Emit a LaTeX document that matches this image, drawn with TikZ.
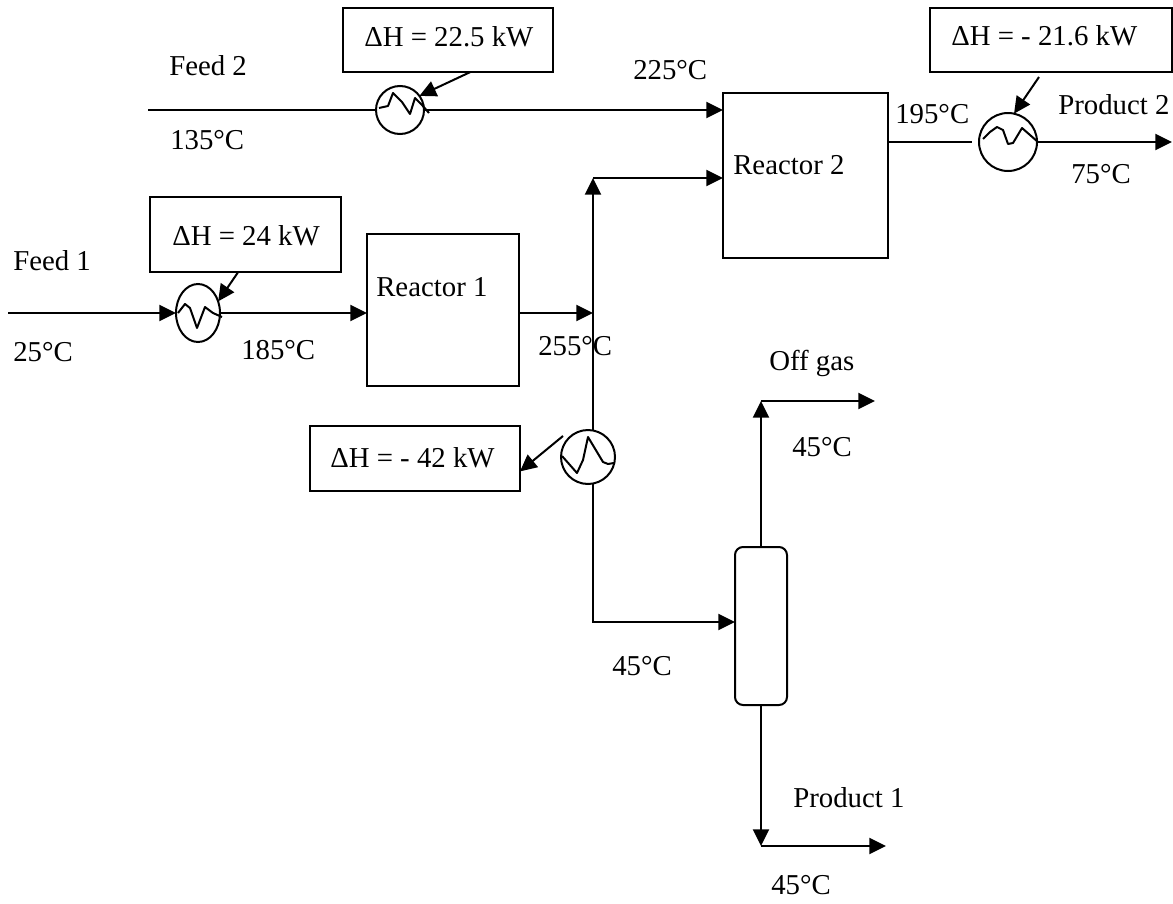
\documentclass[tikz,border=0pt]{standalone}
\usepackage{fontspec}
\setmainfont{Liberation Serif}
\usetikzlibrary{arrows.meta,shapes.geometric}
\tikzset{
	flow/.style={line width=1.5pt,-{Triangle[length=12.5pt,width=12pt]}},
	pipe/.style={line width=1.5pt},
	wave/.style={line width=1.5pt,line join=round},
	unit/.style={draw,line width=1.5pt,outer sep=0pt,inner sep=0pt},
	duty/.style={unit,minimum height=48pt},
	hx/.style={draw,circle,line width=1.5pt,outer sep=0pt,inner sep=0pt},
	lbl/.style={anchor=base west,inner sep=0pt,font=\fontsize{21.6}{25}\selectfont}
}
\begin{document}
\begin{tikzpicture}[x=0.75pt,y=-0.75pt]
	\useasboundingbox (0,0) rectangle (1173,903);
	% units
	\node[unit,minimum width=114pt,minimum height=114pt] (reactorone) at (443,310) {};
	\node[unit,minimum width=123.75pt,minimum height=123.75pt] (reactortwo) at (805.5,175.5) {};
	\node[unit,rounded corners=6pt,minimum width=39pt,minimum height=118.5pt] (column) at (761,626) {};
	\node[duty,minimum width=157.5pt] (dutyone) at (448,40) {};
	\node[duty,minimum width=181.5pt] (dutytwo) at (1051,40) {};
	\node[unit,minimum width=143.25pt,minimum height=56.25pt] (dutythree) at (245.5,234.5) {};
	\node[duty,minimum width=157.5pt,minimum height=48.75pt] (dutyfour) at (415,458.5) {};
	\node[hx,ellipse,minimum width=33pt,minimum height=43.5pt] (hxone) at (198,313) {};
	\node[hx,minimum size=36pt] (hxtwo) at (400,110) {};
	\node[hx,minimum size=43.5pt] (hxthree) at (1008,142) {};
	\node[hx,minimum size=40.5pt] (hxfour) at (588,457) {};
	% free ends
	\coordinate (feedone) at (8,313);
	\coordinate (feedtwo) at (148,110);
	\coordinate (mixone) at (593,313);
	\coordinate (mixtwo) at (593,178);
	\coordinate (bend) at (593,622);
	\coordinate (offbend) at (761,401);
	\coordinate (offgas) at (875,401);
	\coordinate (prodbend) at (761,846);
	\coordinate (prodone) at (886,846);
	\coordinate (prodtwo) at (1172,142);
	\coordinate (hotend) at (972,142);
	\coordinate (dutytwoend) at (1039,77);
	\coordinate (dutyfourend) at (563,436);
	% streams
	\draw[flow] (feedone) -- (hxone.west);
	\draw[flow] (hxone.east) -- (hxone.east -| reactorone.west);
	\draw[flow] (mixone -| reactorone.east) -- (mixone);
	\draw[pipe] (feedtwo) -- (hxtwo.west);
	\draw[flow] (hxtwo.east) -- (hxtwo.east -| reactortwo.west);
	\draw[flow] (mixone |- hxfour.north) -- (mixtwo);
	\draw[flow] (mixtwo) -- (mixtwo -| reactortwo.west);
	\draw[pipe] (hotend -| reactortwo.east) -- (hotend);
	\draw[flow] (hxthree.east) -- (prodtwo);
	\draw[flow] (mixone |- hxfour.south) -- (bend) -- (bend -| column.west);
	\draw[flow] (column.north) -- (offbend);
	\draw[flow] (offbend) -- (offgas);
	\draw[flow] (column.south) -- (prodbend);
	\draw[flow] (prodbend) -- (prodone);
	% duties
	\draw[flow] (dutythree.-101) -- (hxone.30);
	\draw[flow] (dutyone.-55.5) -- (hxtwo.36);
	\draw[flow] (dutytwoend) -- (hxthree.78);
	\draw[flow] (dutyfourend) -- (dutyfour.-7);
	% exchanger curves
	\draw[wave] (178,313) -- (185,304) -- (190,308) -- (197,328) -- (205,307) -- (213,313) -- (222,317);
	\draw[wave] (379,108) -- (388,106) -- (393,93) -- (402,102) -- (410,114) -- (415,98) -- (422,105) -- (429,113);
	\draw[wave] (983,139) -- (990,132) -- (997,127) -- (1003,130) -- (1008,144) -- (1013,143) -- (1022,128) -- (1030,135) -- (1038,142);
	\draw[wave] (562,456) -- (577,473) -- (583,460) -- (588,437) -- (603,462) -- (608,464) -- (614,463);
	% labels
	\node[lbl] (lfeedtwo) at (169,75) {Feed 2};
	\node[lbl] (lhotin) at (633,79) {225°C};
	\node[lbl] (lcoldin) at (170,149) {135°C};
	\node[lbl] (lhotout) at (895,123) {195°C};
	\node[lbl] (lprodtwo) at (1058,114) {Product 2};
	\node[lbl] (lcoldout) at (1071,183) {75°C};
	\node[lbl] (lfeedone) at (13,270) {Feed 1};
	\node[lbl] (ltempone) at (13,361) {25°C};
	\node[lbl] (ltemptwo) at (241,359) {185°C};
	\node[lbl] (ltempthree) at (538,355) {255°C};
	\node[lbl] (loffgas) at (769,370) {Off gas};
	\node[lbl] (ltempoff) at (792,456) {45°C};
	\node[lbl] (ltempfeed) at (612,675) {45°C};
	\node[lbl] (lprodone) at (793,807) {Product 1};
	\node[lbl] (ltempprod) at (771,894) {45°C};
	\node[lbl] (lreactorone) at (376,296) {Reactor 1};
	\node[lbl] (lreactortwo) at (733,174) {Reactor 2};
	\node[lbl] (ldutyone) at (364,46) {ΔH = 22.5 kW};
	\node[lbl] (ldutytwo) at (951,45) {ΔH = - 21.6 kW};
	\node[lbl] (ldutythree) at (172,245) {ΔH = 24 kW};
	\node[lbl] (ldutyfour) at (330,467) {ΔH = - 42 kW};
\end{tikzpicture}
\end{document}
